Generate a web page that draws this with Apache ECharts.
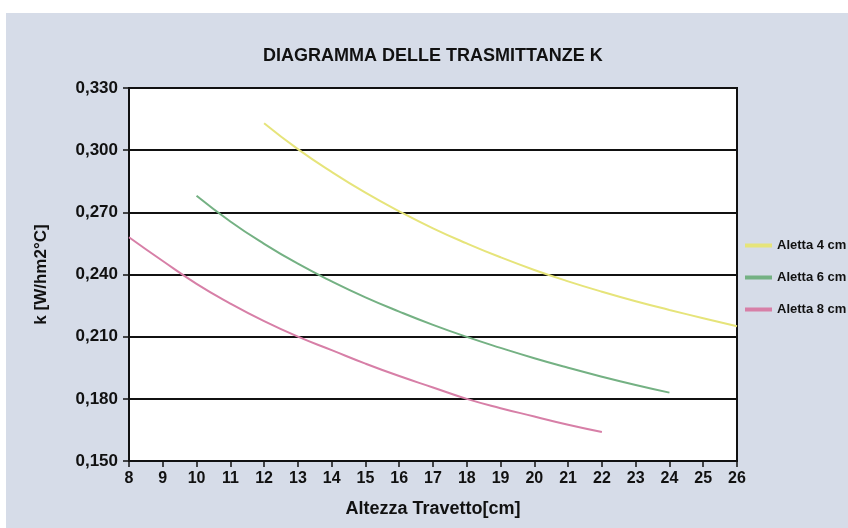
<!DOCTYPE html>
<html>
<head>
<meta charset="utf-8">
<script src="https://cdn.jsdelivr.net/npm/echarts@6/dist/echarts.min.js"></script>
<style>
html,body{margin:0;padding:0;background:#fff;}
#c{width:848px;height:528px;}
</style>
</head>
<body>
<div id="c"></div>
<script>
const titleText = 'DIAGRAMMA DELLE TRASMITTANZE K';
const xName = 'Altezza Travetto[cm]';
const yName = 'k [W/hm2°C]';
const seriesNames = ['Aletta 4 cm', 'Aletta 6 cm', 'Aletta 8 cm'];
const seriesColors = ['#e6e47a', '#74b183', '#d77fa7'];

const x4 = [12, 13, 14, 15, 16, 17, 18, 19, 20, 21, 22, 23, 24, 25, 26];
const k4 = [0.313, 0.3005, 0.2895, 0.2795, 0.2705, 0.2623, 0.2550, 0.2483, 0.2422, 0.2367, 0.2317, 0.2271, 0.2229, 0.2189, 0.215];

const x6 = [10, 11, 12, 13, 14, 15, 16, 17, 18, 19, 20, 21, 22, 23, 24];
const k6 = [0.278, 0.2656, 0.2548, 0.2452, 0.2367, 0.2290, 0.2221, 0.2157, 0.2099, 0.2046, 0.1996, 0.1950, 0.1907, 0.1867, 0.183];

const x8 = [8, 9, 10, 11, 12, 13, 14, 15, 16, 17, 18, 19, 20, 21, 22];
const k8 = [0.258, 0.2465, 0.2355, 0.2260, 0.2175, 0.210, 0.2035, 0.197, 0.191, 0.1855, 0.180, 0.1755, 0.1715, 0.1675, 0.164];

const xMin = 8, xMax = 26, xStep = 1;
const yMin = 0.15, yMax = 0.33, yStep = 0.03;

function pairs(xs, ys){ return xs.map((x,i)=>[x, ys[i]]); }
const allX = [x4, x6, x8];
const allK = [k4, k6, k8];

const font = '"Liberation Sans", Arial, Helvetica, sans-serif';
const chart = echarts.init(document.getElementById('c'));
chart.setOption({
  backgroundColor: '#ffffff',
  animation: false,
  graphic: [{
    type: 'rect', z: -10, silent: true,
    shape: {x: 6, y: 13, width: 842, height: 515},
    style: {fill: '#d6dce8'}
  }],
  title: {
    text: titleText, left: 258, top: 42,
    textStyle: {fontFamily: font, fontSize: 18, fontWeight: 'bold', color: '#111'}
  },
  legend: {
    orient: 'vertical', left: 740, top: 234, itemGap: 19,
    itemWidth: 27, itemHeight: 4, icon: 'rect',
    data: seriesNames,
    textStyle: {fontFamily: font, fontSize: 13, fontWeight: 'bold', color: '#111'}
  },
  grid: {
    left: 129, right: 111, top: 88, bottom: 67,
    show: true, backgroundColor: '#ffffff', borderColor: '#111', borderWidth: 2
  },
  xAxis: {
    type: 'value', min: xMin, max: xMax, interval: xStep,
    name: xName, nameLocation: 'middle', nameGap: 39,
    nameTextStyle: {fontFamily: font, fontSize: 18, fontWeight: 'bold', color: '#111'},
    axisLine: {show: true, lineStyle: {color: '#111', width: 2}},
    axisTick: {show: true, length: 6, lineStyle: {color: '#111', width: 1.5}},
    axisLabel: {fontFamily: font, fontSize: 16, fontWeight: 'bold', color: '#111', margin: 10},
    splitLine: {show: false}
  },
  yAxis: {
    type: 'value', min: yMin, max: yMax, interval: yStep,
    name: yName, nameLocation: 'middle', nameGap: 79, nameRotate: 90,
    nameTextStyle: {fontFamily: font, fontSize: 17, fontWeight: 'bold', color: '#111'},
    axisLine: {show: true, lineStyle: {color: '#111', width: 2}},
    axisTick: {show: true, length: 6, lineStyle: {color: '#111', width: 1.5}},
    axisLabel: {
      fontFamily: font, fontSize: 17, fontWeight: 'bold', color: '#111', margin: 11,
      formatter: v => v.toFixed(3).replace('.', ',')
    },
    splitLine: {show: true, lineStyle: {color: '#111', width: 2}}
  },
  series: seriesNames.map((n, i) => ({
    name: n, type: 'line', smooth: true, showSymbol: false, symbol: 'none',
    color: seriesColors[i],
    lineStyle: {width: 2, color: seriesColors[i]},
    data: pairs(allX[i], allK[i])
  }))
});
</script>
</body>
</html>
